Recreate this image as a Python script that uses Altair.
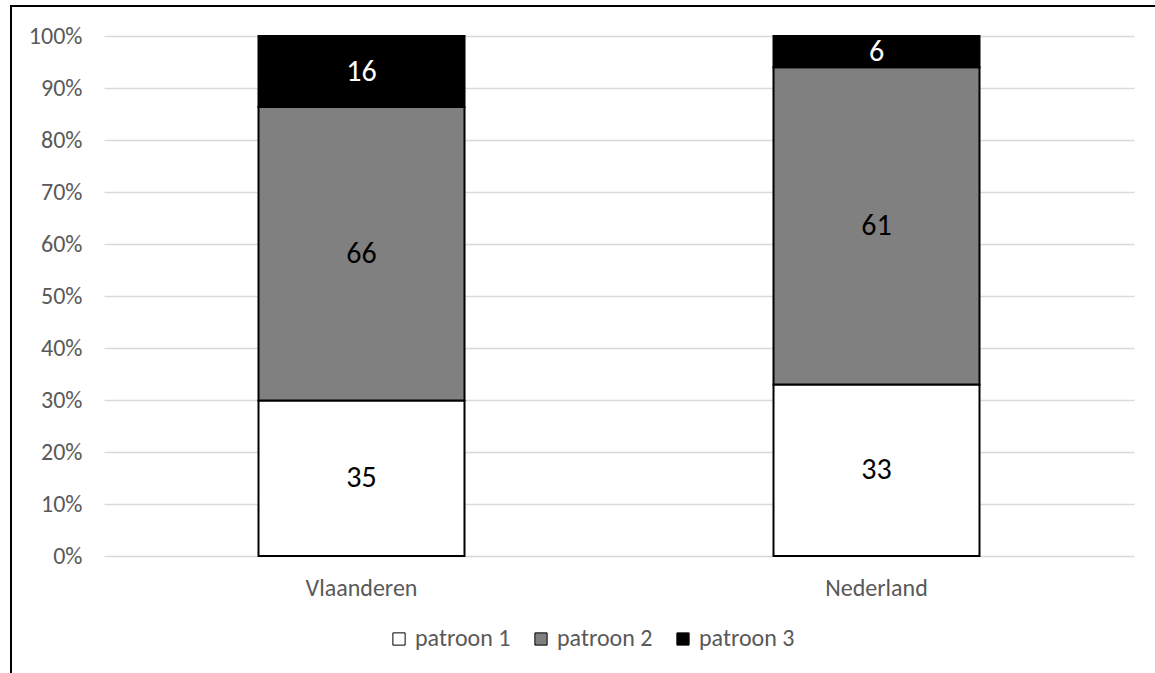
import altair as alt
import pandas as pd

countries = ["Vlaanderen", "Nederland"]
patterns = ["patroon 1", "patroon 2", "patroon 3"]
vlaanderen = [35, 66, 16]
nederland = [33, 61, 6]
fills = ["#ffffff", "#808080", "#000000"]
ticks = [0, 0.1, 0.2, 0.3, 0.4, 0.5, 0.6, 0.7, 0.8, 0.9, 1.0]

rows = []
for c, vals in zip(countries, [vlaanderen, nederland]):
    for i, (p, v) in enumerate(zip(patterns, vals)):
        rows.append({"country": c, "pattern": p, "order": i, "value": v})
df = pd.DataFrame(rows)

FONT = "Carlito, Calibri, Lato, sans-serif"

base = alt.Chart(df).transform_stack(
    stack="value",
    groupby=["country"],
    as_=["v0", "v1"],
    offset="normalize",
    sort=[alt.SortField("order", order="ascending")],
).transform_calculate(mid="(datum.v0 + datum.v1) / 2")

xaxis = alt.Axis(
    title=None, labelAngle=0, domain=False, ticks=False, grid=False,
    labelPadding=20, labelFontSize=24, labelColor="#595959", labelFont=FONT,
)
yaxis = alt.Axis(
    title=None, format="%", values=ticks, domain=False, ticks=False,
    labelPadding=22, labelFontSize=24, labelColor="#595959", labelFont=FONT,
    gridColor="#d9d9d9", gridWidth=1.3,
)
xscale = alt.Scale(paddingInner=0.6, paddingOuter=0.3)
yscale = alt.Scale(domain=[0, 1], nice=False)

bars = base.mark_bar(stroke="black", strokeWidth=2).encode(
    x=alt.X("country:N", sort=countries, scale=xscale, axis=xaxis),
    y=alt.Y("v0:Q", scale=yscale, axis=yaxis),
    y2="v1:Q",
    fill=alt.Fill(
        "pattern:N",
        scale=alt.Scale(domain=patterns, range=fills),
        legend=alt.Legend(
            title=None, orient="none", legendX=283, legendY=591,
            direction="horizontal", symbolType="square", symbolSize=150,
            symbolStrokeColor="black", symbolStrokeWidth=1,
            labelFontSize=24, labelColor="#595959", labelFont=FONT,
            columnPadding=18, labelOffset=4, padding=0,
        ),
    ),
)

labels = base.mark_text(font=FONT, fontSize=30, baseline="middle", align="center").encode(
    x=alt.X("country:N", sort=countries, scale=xscale, axis=xaxis),
    y=alt.Y("mid:Q", scale=yscale, axis=yaxis),
    text=alt.Text("value:Q"),
    color=alt.condition(alt.datum.pattern == "patroon 3", alt.value("white"), alt.value("black")),
)

frame_left = alt.Chart(df).mark_rule(color="black", strokeWidth=2).encode(
    x=alt.value(-93), y=alt.value(-30), y2=alt.value(700)
)
frame_top = alt.Chart(df).mark_rule(color="black", strokeWidth=2).encode(
    x=alt.value(-94), x2=alt.value(1100), y=alt.value(-30)
)

chart = alt.layer(bars, labels, frame_left, frame_top).properties(
    width=1030,
    height=520,
    autosize=alt.AutoSizeParams(type="none"),
    padding={"left": 104, "top": 36, "right": 21, "bottom": 117},
).configure(background="white").configure_view(stroke=None)

chart.save("out.html", embed_options={"renderer": "svg", "actions": False})
